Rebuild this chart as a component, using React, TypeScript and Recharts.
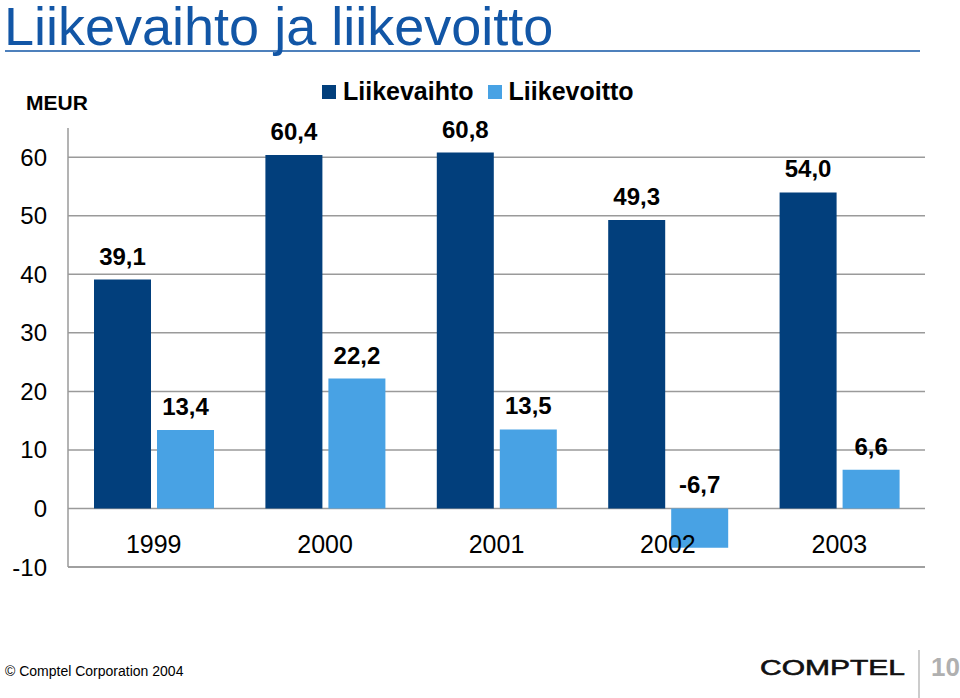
import { BarChart, Bar, XAxis, YAxis, CartesianGrid, LabelList } from 'recharts'

const years = ['1999', '2000', '2001', '2002', '2003']
const liikevaihto = [39.1, 60.4, 60.8, 49.3, 54.0]
const liikevoitto = [13.4, 22.2, 13.5, -6.7, 6.6]
const yTicks = [-10, 0, 10, 20, 30, 40, 50, 60]
const yDomain = [-10, 65]

const series = [
  { key: 'liikevaihto', name: 'Liikevaihto', color: '#023f7c' },
  { key: 'liikevoitto', name: 'Liikevoitto', color: '#48a2e4' },
]

const data = years.map((year, i) => ({
  year,
  liikevaihto: liikevaihto[i],
  liikevoitto: liikevoitto[i],
}))

const FONT = '"Liberation Sans", Arial, sans-serif'
const GRID = '#9a9a9a'

const fmt = (v: number) => v.toFixed(1).replace('.', ',')

const ValueLabel = (props: any) => {
  const { x, y, width, height, value } = props
  const top = Math.min(Number(y), Number(y) + Number(height))
  return (
    <text x={Number(x) + Number(width) / 2} y={top - 15} textAnchor="middle"
      fontFamily={FONT} fontSize={24} fontWeight="bold" fill="#000">
      {fmt(Number(value))}
    </text>
  )
}

// year labels sit inside the plot, between 0 and -10
const YearTick = ({ x, y, payload }: any) => (
  <text x={x} y={y - 14} textAnchor="middle" fontFamily={FONT} fontSize={25} fill="#000">
    {payload.value}
  </text>
)

// grid only at the labelled ticks, not at the top of the domain
const gridRows = ({ yAxis, offset }: any) => {
  const scale = yAxis?.scale
  if (typeof scale === 'function') return yTicks.map((t) => scale(t))
  if (!offset) return []
  const [lo, hi] = yDomain
  return yTicks.map((t) => offset.top + ((hi - t) / (hi - lo)) * offset.height)
}

function Legend() {
  return (
    <div style={{ position: 'absolute', left: 322, top: 77, display: 'flex', alignItems: 'center', fontFamily: FONT, fontSize: 25, fontWeight: 'bold' }}>
      {series.map((s) => (
        <span key={s.key} style={{ display: 'flex', alignItems: 'center', marginRight: 14 }}>
          <span style={{ width: 14, height: 14, background: s.color, display: 'inline-block', marginRight: 7 }} />
          <span>{s.name}</span>
        </span>
      ))}
    </div>
  )
}

export default function App() {
  return (
    <div style={{ position: 'absolute', left: 0, top: 0, width: 960, height: 698, background: '#fff', overflow: 'hidden' }}>
      <BarChart width={960} height={698} data={data} barSize={57} barGap={6}
        margin={{ top: 128, right: 35, bottom: 101, left: 0 }}>
        <CartesianGrid vertical={false} horizontalCoordinatesGenerator={gridRows}
          stroke={GRID} strokeWidth={1.5} />
        <XAxis dataKey="year" height={30} tickLine={false} tickSize={0} tickMargin={0}
          axisLine={{ stroke: GRID, strokeWidth: 1.5 }} tick={<YearTick />} />
        <YAxis width={68} domain={yDomain} ticks={yTicks} interval={0} allowDataOverflow
          tickLine={false} tickSize={0} tickMargin={21}
          axisLine={{ stroke: GRID, strokeWidth: 1.5 }}
          tick={{ fill: '#000', fontSize: 24, fontFamily: FONT }} />
        {series.map((s) => (
          <Bar key={s.key} dataKey={s.key} name={s.name} fill={s.color} isAnimationActive={false}>
            <LabelList dataKey={s.key} content={<ValueLabel />} />
          </Bar>
        ))}
      </BarChart>
      <Legend />
      <svg width={960} height={698} style={{ position: 'absolute', left: 0, top: 0, pointerEvents: 'none' }}>
        <text x={4} y={45} fontFamily={FONT} fontSize={54} fill="#1256a6">Liikevaihto ja liikevoitto</text>
        <line x1={5} x2={920} y1={51} y2={51} stroke="#1256a6" strokeWidth={1.5} />
        <text x={26} y={110} fontFamily={FONT} fontSize={21} fontWeight="bold" fill="#000">MEUR</text>
        <text x={5} y={676} fontFamily={FONT} fontSize={14} fill="#000">© Comptel Corporation 2004</text>
        <text x={760} y={675} fontFamily={FONT} fontSize={22} fill="#111" stroke="#111" strokeWidth={0.6}
          textLength={145} lengthAdjust="spacingAndGlyphs">COMPTEL</text>
        <line x1={919} x2={919} y1={650} y2={698} stroke="#999" strokeWidth={1} />
        <text x={931} y={676} fontFamily={FONT} fontSize={26} fontWeight="bold" fill="#b0b0b0">10</text>
      </svg>
    </div>
  )
}
